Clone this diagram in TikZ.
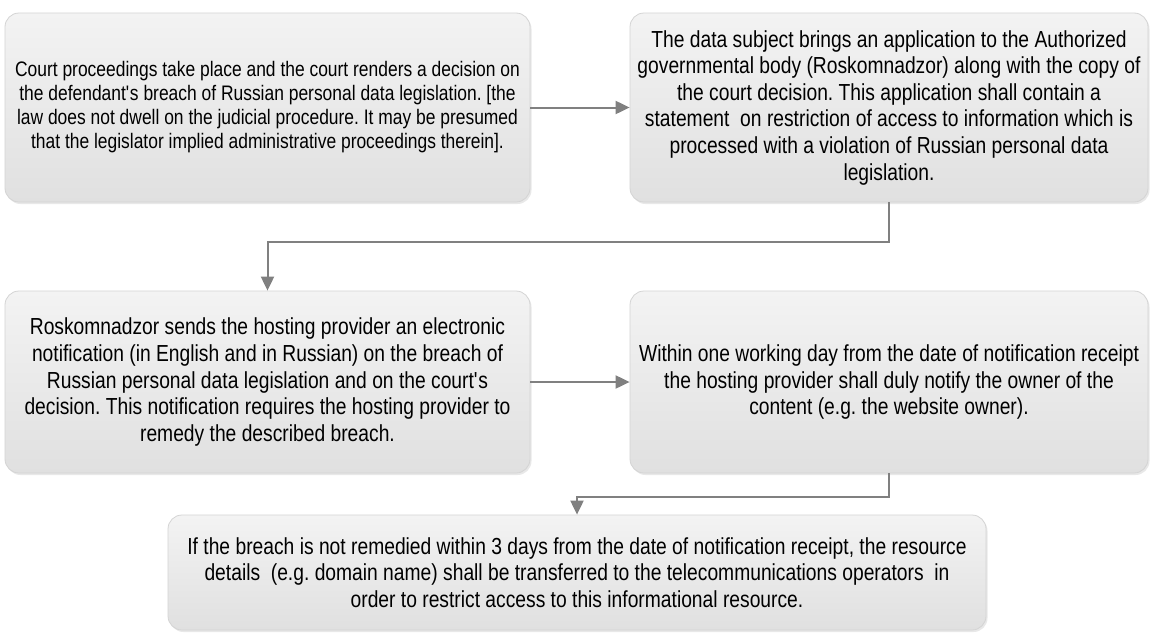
\documentclass[tikz,border=0pt]{standalone}
\usepackage{fontspec}
\setmainfont{Liberation Sans}[FakeStretch=0.83]
\usetikzlibrary{arrows.meta,shadows}
\definecolor{boxtop}{HTML}{F3F3F3}
\definecolor{boxbot}{HTML}{E0E0E0}
\definecolor{boxline}{HTML}{D4D4D4}
\definecolor{conncol}{HTML}{808080}
\frenchspacing
\begin{document}
\begin{tikzpicture}[x=1pt,y=-1pt,
  stepbox/.style={rounded corners=14pt, draw=boxline, line width=0.8pt,
    top color=boxtop, bottom color=boxbot,
    drop shadow={shadow xshift=1.5pt, shadow yshift=-2pt, opacity=0.18},
    align=center, inner sep=0pt, text=black,
    font=\fontsize{23.2}{26.6}\selectfont\frenchspacing},
  smalltext/.style={font=\fontsize{21}{24}\selectfont\frenchspacing},
  conn/.style={draw=conncol, line width=2pt, -{Triangle[length=14pt,width=13pt]}}]
\useasboundingbox (0,0) rectangle (1156,632);
\fill[white] (0,0) rectangle (1156,632);

\node[stepbox, smalltext, minimum width=525pt, minimum height=189pt] (b1) at (267.5,107.5)
 {Court proceedings take place and the court renders a decision on\\
  the defendant\textquotesingle s breach of Russian personal data legislation. [the\\
  law does not dwell on the judicial procedure. It may be presumed\\
  that the legislator implied administrative proceedings therein].};

\node[stepbox, minimum width=518pt, minimum height=189pt] (b2) at (889,107.5)
 {The data subject brings an application to the Authorized\\
  governmental body (Roskomnadzor) along with the copy of\\
  the court decision. This application shall contain a\\
  statement\ \ on restriction of access to information which is\\
  processed with a violation of Russian personal data\\
  legislation.};

\node[stepbox, minimum width=525pt, minimum height=182pt] (b3) at (267.5,382)
 {Roskomnadzor sends the hosting provider an electronic\\
  notification (in English and in Russian) on the breach of\\
  Russian personal data legislation and on the court\textquotesingle s\\
  decision. This notification requires the hosting provider to\\
  remedy the described breach.};

\node[stepbox, minimum width=518pt, minimum height=182pt] (b4) at (889,382)
 {Within one working day from the date of notification receipt\\
  the hosting provider shall duly notify the owner of the\\
  content (e.g. the website owner).};

\node[stepbox, minimum width=818pt, minimum height=115pt] (b5) at (577,572.5)
 {If the breach is not remedied within 3 days from the date of notification receipt, the resource\\
  details\ \ (e.g. domain name) shall be transferred to the telecommunications operators\ \ in\\
  order to restrict access to this informational resource.};

\coordinate (j1) at (889,242);
\coordinate (j2) at (889,497);

\draw[conn] (b1.east) -- (b2.west);
\draw[conn] (b2.south) -- (j1) -| (b3.north);
\draw[conn] (b3.east) -- (b4.west);
\draw[conn] (b4.south) -- (j2) -| (b5.north);
\end{tikzpicture}
\end{document}
